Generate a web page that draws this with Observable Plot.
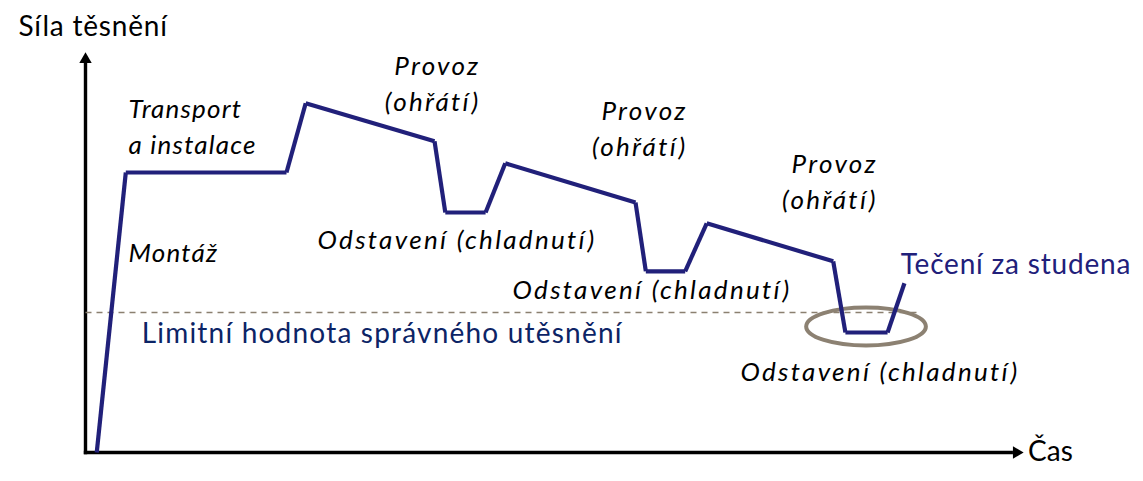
<!DOCTYPE html>
<html>
<head>
<meta charset="utf-8">
<script src="https://cdn.jsdelivr.net/npm/d3@7"></script>
<script src="https://cdn.jsdelivr.net/npm/@observablehq/plot@0.6"></script>
<style>
  html, body { margin: 0; padding: 0; background: #fff; }
  #chart svg { display: block; }
  .lab-a text { letter-spacing: 1.2px; }
  .lab-b text { letter-spacing: 2.3px; }
  .lab-u text { letter-spacing: 1.2px; }
  .lab-s text { letter-spacing: 0.8px; }
</style>
</head>
<body>
<div id="chart"></div>
<script>
// Time (arbitrary units, 0–100 along the axis) and sealing force (0–100)
const time  = [1.2, 4.3, 21.45, 23.5, 37.25, 38.4, 42.7, 44.8, 58.7, 59.8, 64.0, 66.3, 79.8, 81.1, 85.6, 87.4];
const force = [0, 70, 70, 87.3, 77.8, 60, 60, 72.3, 62.5, 45.3, 45.3, 57.3, 47.8, 30, 30, 42.3];

// Limit value for correct sealing
const limitForce = 35;
const limitEnd = 88.8;

// Labels
const axisTitleY = "Síla těsnění";
const axisTitleX = "Čas";
const phaseLabels = ["Transport\na instalace", "Montáž", "Provoz\n(ohřátí)", "Provoz\n(ohřátí)", "Provoz\n(ohřátí)",
                     "Odstavení (chladnutí)", "Odstavení (chladnutí)", "Odstavení (chladnutí)"];
const phaseX = [4.6, 4.6, 42.15, 64.25, 84.55, 24.76, 45.57, 69.9];
const phaseY = [74.75, 47.75, 85.5, 74.25, 61, 51, 38.5, 18];
const phaseGroup = ["a", "a", "end", "end", "end", "b", "b", "b"];
const limitLabel = "Limitní hodnota správného utěsnění";
const creepLabel = "Tečení za studena";

const segs = d3.range(time.length - 1).map(i => ({x1: time[i], y1: force[i], x2: time[i + 1], y2: force[i + 1]}));
const phases = phaseLabels.map((t, i) => ({text: t, x: phaseX[i], y: phaseY[i], group: phaseGroup[i]}));

const ellipseSymbol = {
  draw(ctx, size) {
    const r = Math.sqrt(size / Math.PI);
    const rx = r * 3.15, ry = r, k = 0.5523;
    ctx.moveTo(rx, 0);
    ctx.bezierCurveTo(rx, k * ry, k * rx, ry, 0, ry);
    ctx.bezierCurveTo(-k * rx, ry, -rx, k * ry, -rx, 0);
    ctx.bezierCurveTo(-rx, -k * ry, -k * rx, -ry, 0, -ry);
    ctx.bezierCurveTo(k * rx, -ry, rx, -k * ry, rx, 0);
    ctx.closePath();
  }
};

const FONT = "Lato";
const FS = 26;
const lineColor = "#21207a";
const italicOpts = {x: "x", y: "y", text: "text", lineAnchor: "bottom", lineHeight: 1.38, fontSize: FS, fontStyle: "italic", fill: "#000", fontFamily: FONT};

const chart = Plot.plot({
  width: 1143,
  height: 481,
  marginLeft: 85,
  marginRight: 121,
  marginTop: 52,
  marginBottom: 29,
  x: {domain: [0, 100], axis: null},
  y: {domain: [0, 100], axis: null},
  style: {fontFamily: FONT, background: "#fff"},
  marks: [
    // axes
    Plot.link([0], {x1: 0, y1: 0, x2: 0, y2: 98, stroke: "#000", strokeWidth: 3.4, strokeLinecap: "square"}),
    Plot.link([0], {x1: 0, y1: 0, x2: 98.8, y2: 0, stroke: "#000", strokeWidth: 3.4, strokeLinecap: "square"}),
    Plot.dot([0], {x: 0, y: 100, dy: 7, symbol: "triangle", r: 4.6, fill: "#000", stroke: "none"}),
    Plot.dot([0], {x: 100, y: 0, dx: -6, symbol: "triangle", rotate: 90, r: 4.6, fill: "#000", stroke: "none"}),
    Plot.text([axisTitleY], {x: -7.15, y: 104.25, text: d => d, textAnchor: "start", lineAnchor: "bottom", fontSize: 28, fill: "#000", fontFamily: FONT, className: "lab-s"}),
    Plot.text([axisTitleX], {x: 100.6, y: -2, text: d => d, textAnchor: "start", lineAnchor: "bottom", fontSize: 28, fill: "#000", fontFamily: FONT}),
    // limit line
    Plot.link([0], {x1: 0, y1: limitForce, x2: limitEnd, y2: limitForce, stroke: "#8b8070", strokeWidth: 1.6, strokeDasharray: "6,5"}),
    Plot.text([limitLabel], {x: 6, y: 27.5, text: d => d, textAnchor: "start", lineAnchor: "bottom", fontSize: 28, fill: "#0c2466", fontFamily: FONT, className: "lab-u"}),
    // cold-flow highlight
    Plot.dot([0], {x: 83.3, y: 31.5, symbol: ellipseSymbol, r: 19, fill: "none", stroke: "#8c8172", strokeWidth: 4}),
    Plot.text([creepLabel], {x: 87.0, y: 44.75, text: d => d, textAnchor: "start", lineAnchor: "bottom", fontSize: 28, fill: lineColor, fontFamily: FONT, className: "lab-s"}),
    // force curve
    Plot.link(segs, {x1: "x1", y1: "y1", x2: "x2", y2: "y2", stroke: lineColor, strokeWidth: 4.2, strokeLinecap: "butt"}),
    // phase labels
    Plot.text(phases.filter(d => d.group === "a"), {...italicOpts, textAnchor: "start", className: "lab-a"}),
    Plot.text(phases.filter(d => d.group === "end"), {...italicOpts, textAnchor: "end", className: "lab-b"}),
    Plot.text(phases.filter(d => d.group === "b"), {...italicOpts, textAnchor: "start", className: "lab-b"})
  ]
});
document.getElementById("chart").appendChild(chart);
</script>
</body>
</html>
